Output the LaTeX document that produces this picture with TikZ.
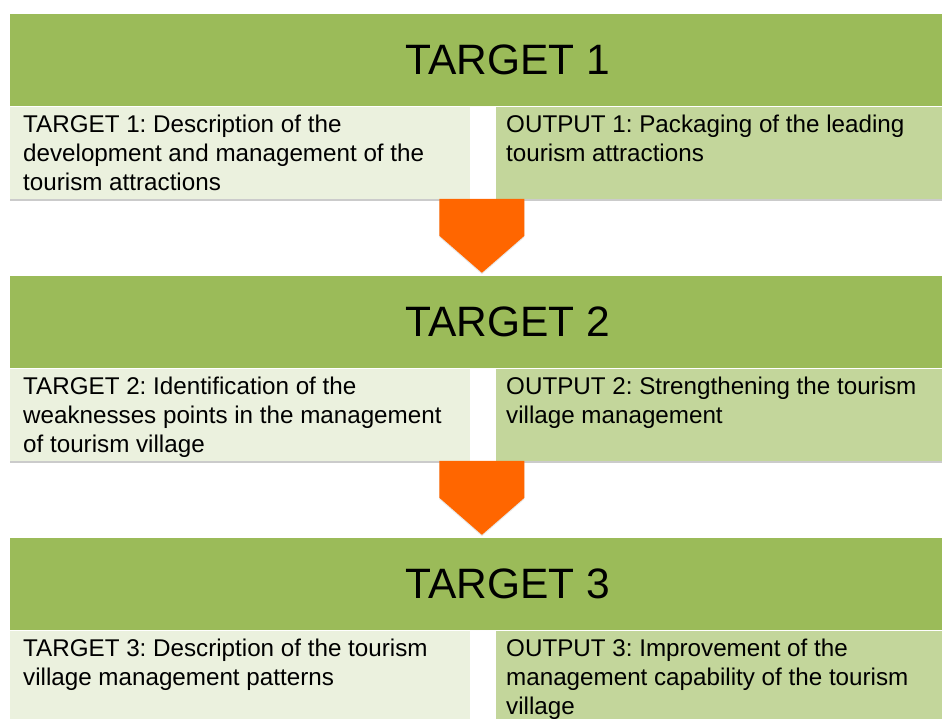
\documentclass[tikz,border=0pt]{standalone}
\usepackage{fontspec}
\setmainfont{Liberation Sans}
\usetikzlibrary{positioning}
\usetikzlibrary{calc}
\usetikzlibrary{shadows}
\frenchspacing

\definecolor{hdrgreen}{HTML}{9BBB59}
\definecolor{paletarget}{HTML}{EBF1DE}
\definecolor{paleoutput}{HTML}{C3D69B}
\definecolor{flowarrow}{HTML}{FF6600}

\tikzset{
  softshadow/.style={drop shadow={shadow xshift=0pt,shadow yshift=-2.5pt,fill=black!45,opacity=.45}},
  header/.style={fill=hdrgreen,minimum width=995pt,minimum height=92pt,inner sep=0pt,
    font=\fontsize{42.5}{50}\selectfont},
  targetbox/.style={fill=paletarget,minimum width=460pt,minimum height=92pt,inner sep=0pt,softshadow},
  outputbox/.style={fill=paleoutput,minimum width=509pt,minimum height=92pt,inner sep=0pt,softshadow},
  boxtext/.style={align=left,inner sep=0pt,anchor=north west,font=\fontsize{24.2}{29}\selectfont},
  downarrow/.style={fill=flowarrow,drop shadow={shadow xshift=0pt,shadow yshift=-1.5pt,fill=black!30,opacity=.3}}
}

\begin{document}
\begin{tikzpicture}[x=1pt,y=1pt]
  \useasboundingbox (0,0) rectangle (942,718);
  \clip (0,0) rectangle (942,718);
  \foreach \i/\y/\tt/\ot in {
    1/704/{TARGET 1: Description of the\\development and management of the\\tourism attractions}/{OUTPUT 1: Packaging of the leading\\tourism attractions},
    2/442/{TARGET 2: Identification of the\\weaknesses points in the management\\of tourism village}/{OUTPUT 2: Strengthening the tourism\\village management},
    3/180/{TARGET 3: Description of the tourism\\village management patterns}/{OUTPUT 3: Improvement of the\\management capability of the tourism\\village}}
  {
    \node[header,anchor=north west] (h\i) at (10,\y) {TARGET \i};
    \node[targetbox,anchor=north west] (tb\i) at (h\i.south west) {};
    \node[outputbox,anchor=north west] (ob\i) at ([xshift=486pt]h\i.south west) {};
    \node[boxtext] (tt\i) at ([shift={(13pt,-8pt)}]tb\i.north west) {\tt};
    \node[boxtext] (ot\i) at ([shift={(10pt,-8pt)}]ob\i.north west) {\ot};
  }
  % block arrows from one row down to the next
  \foreach \i in {1,2}
  {
    \coordinate (a\i) at ($(tb\i.south east)+(11.5,0)$);
    \fill[downarrow] ($(a\i)+(-42.5,0)$) -- ++(0,-37) -- ++(42.5,-37) -- ++(42.5,37) -- ++(0,37) -- cycle;
  }
\end{tikzpicture}
\end{document}
